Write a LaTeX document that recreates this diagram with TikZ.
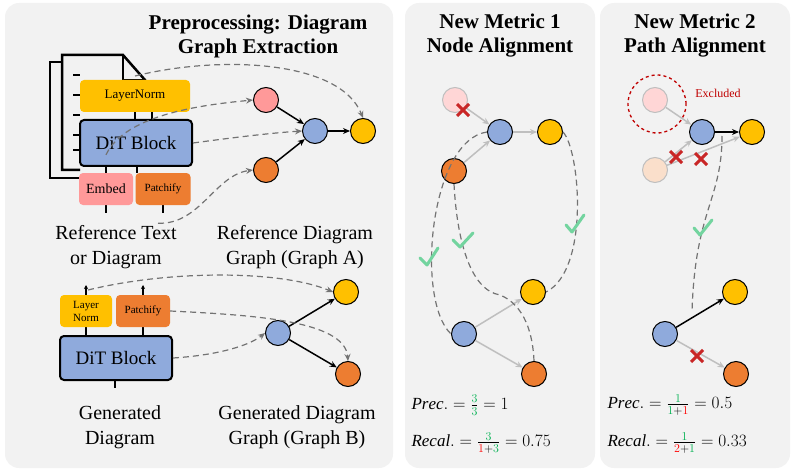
\documentclass[tikz,border=0pt]{standalone}
\usepackage{fontspec}
\setmainfont{Liberation Serif}
\usetikzlibrary{arrows.meta}
\definecolor{pbg}{HTML}{F2F2F2}
\definecolor{cyel}{HTML}{FFC000}
\definecolor{cblu}{HTML}{8FAADC}
\definecolor{cora}{HTML}{ED7D31}
\definecolor{cpin}{HTML}{FF9999}
\definecolor{cgrn}{HTML}{00B050}
\definecolor{cred}{HTML}{C00000}
\definecolor{ffred}{HTML}{FF0000}
\begin{document}
\begin{tikzpicture}[x=1pt,y=-1pt,
  panel/.style={fill=pbg,draw=none,rounded corners=14pt},
  title/.style={font=\fontsize{21}{24}\selectfont\bfseries,align=center},
  lab/.style={font=\fontsize{20}{25}\selectfont,align=center},
  gn/.style={circle,draw=black,line width=1pt,minimum size=25pt,inner sep=0pt},
  fn/.style={circle,draw=black!25,line width=1pt,minimum size=25pt,inner sep=0pt},
  blk/.style={rounded corners=4pt,inner sep=0pt,font=\fontsize{13}{14}\selectfont,align=center},
  bar/.style={-{Stealth[length=7pt,width=6pt]},line width=1.5pt},
  gar/.style={-{Stealth[length=7pt,width=6pt]},line width=1.5pt,black!25},
  dsh/.style={dashed,dash pattern=on 6pt off 4pt,line width=1.2pt,black!55},
  dar/.style={dsh,-{Stealth[length=7pt,width=6pt]}},
  tick/.style={line width=1.3pt},
  chk/.style={line width=3pt,cgrn!55,line cap=round,line join=round},
  frm/.style={anchor=west,font=\fontsize{17}{20}\selectfont}]
\useasboundingbox (0,0) rectangle (794,473);
\fill[panel] (5,3) rectangle (393,468);
\fill[panel] (405,3) rectangle (595,468);
\fill[panel] (600,3) rectangle (790,468);
% ---------- panel 1 ----------
\node[title] (t1) at (258,36) {Preprocessing: Diagram\\Graph Extraction};
% document icon
\draw[line width=2.5pt] (62,62) -- (50,62) -- (50,178) -- (80,178);
\draw[line width=2.5pt] (80,170) -- (62,170) -- (62,55) -- (123,55) -- (145,80) -- (145,90);
\draw[line width=2.5pt] (123,55) -- (123,80) -- (145,80);
\foreach \yy in {75,95,115,135,150} \draw[line width=2.5pt] (73,\yy) -- (80,\yy);
\draw[tick] (135,112) -- (135,120); \draw[tick] (152,112) -- (152,120);
\draw[tick] (106,166) -- (106,173); \draw[tick] (137,166) -- (137,173);
\draw[tick] (106,205) -- (106,213); \draw[tick] (163,205) -- (163,213);
\node[blk,fill=cyel,minimum width=110pt,minimum height=32pt] (ln) at (135,96) {LayerNorm};
\node[blk,fill=cblu,draw=black,line width=2pt,minimum width=112pt,minimum height=46pt,font=\fontsize{19}{20}\selectfont] (dit) at (136,143) {DiT Block};
\node[blk,fill=cpin,minimum width=54pt,minimum height=32pt,font=\fontsize{14}{15}\selectfont] (emb) at (106,189) {Embed};
\node[blk,fill=cora,minimum width=55pt,minimum height=32pt,font=\fontsize{11}{12}\selectfont] (pat) at (163,189) {Patchify};
\coordinate (doc) at (135,76);
\node[gn,fill=cpin] (a1) at (266,100) {};
\node[gn,fill=cblu] (a2) at (315,131) {};
\node[gn,fill=cora] (a3) at (266,170) {};
\node[gn,fill=cyel] (a4) at (363,131) {};
\draw[bar] (a1) -- (a2); \draw[bar] (a3) -- (a2); \draw[bar] (a2) -- (a4);
\draw[dar] (doc) .. controls (220,55) and (340,60) .. (a4.north);
\draw[dar] (emb.north) ++(0,-18) .. controls (125,115) and (200,105) .. (a1.west);
\draw[dar] (dit.east) .. controls (230,138) and (270,133) .. (a2.west);
\draw[dar] (pat.south) ++(-5,18) .. controls (200,225) and (215,175) .. (a3.west);
\node[lab] (l1) at (116,247) {Reference Text\\or Diagram};
\node[lab] (l2) at (295,247) {Reference Diagram\\Graph (Graph A)};
% bottom
\draw[tick,-{Stealth[length=4pt,width=4pt]}] (86,295) -- (86,285);
\draw[tick,-{Stealth[length=4pt,width=4pt]}] (143,295) -- (143,285);
\draw[tick] (86,327) -- (86,336); \draw[tick] (143,327) -- (143,336);
\draw[tick] (115,380) -- (115,388);
\node[blk,fill=cyel,minimum width=52pt,minimum height=32pt,font=\fontsize{11}{13}\selectfont] (ln2) at (86,311) {Layer\\Norm};
\node[blk,fill=cora,minimum width=54pt,minimum height=32pt,font=\fontsize{11}{12}\selectfont] (pat2) at (143,311) {Patchify};
\node[blk,fill=cblu,draw=black,line width=2pt,minimum width=112pt,minimum height=44pt,font=\fontsize{19}{20}\selectfont] (dit2) at (116,358) {DiT Block};
\node[gn,fill=cblu] (b1) at (278,333) {};
\node[gn,fill=cyel] (b2) at (346,292) {};
\node[gn,fill=cora] (b3) at (348,374) {};
\draw[bar] (b1) -- (b2); \draw[bar] (b1) -- (b3);
\coordinate (lnt) at (88,290);
\draw[dar] (lnt) .. controls (170,270) and (280,270) .. (b2.west);
\draw[dar] (pat2.east) .. controls (250,315) and (345,320) .. (b3.north);
\draw[dar] (dit2.east) .. controls (220,355) and (250,345) .. (b1.west);
\node[lab] (l3) at (120,427) {Generated\\Diagram};
\node[lab] (l4) at (297,427) {Generated Diagram\\Graph (Graph B)};
% ---------- panel 2 ----------
\node[title] (t2) at (500,36) {New Metric 1\\Node Alignment};
\node[fn,fill=cpin!40] (c1) at (455,100) {};
\node[gn,fill=cblu] (c2) at (500,132) {};
\node[gn,fill=cyel] (c3) at (550,132) {};
\node[gn,fill=cora] (c4) at (454,171) {};
\draw[gar] (c1) -- (c2); \draw[gar] (c4) -- (c2); \draw[gar] (c2) -- (c3);
\draw[line width=3pt,cred!85] (457,104) -- (469,116) (457,116) -- (469,104);
\node[gn,fill=cblu] (d1) at (464,334) {};
\node[gn,fill=cyel] (d2) at (533,292) {};
\node[gn,fill=cora] (d3) at (534,374) {};
\draw[gar] (d1) -- (d2); \draw[gar] (d1) -- (d3);
\draw[dsh] (c2.west) .. controls (430,140) and (415,300) .. (d1.west);
\draw[dsh] (c4.south) .. controls (457,240) and (470,290) .. (500,295) .. controls (525,305) and (533,335) .. (d3.north);
\draw[dsh] (c3.east) .. controls (580,150) and (590,270) .. (d2.east);
\draw[chk] (420,258) -- (427,265) -- (438,248);
\draw[chk] (453,240) -- (460,247) -- (473,233);
\draw[chk] (566,225) -- (572,232) -- (584,215);
\node[frm] (p1) at (408,405) {$\mathit{Prec.}=\frac{\color{cgrn}3}{\color{cgrn}3}=1$};
\node[frm] (r1) at (408,443) {$\mathit{Recal.}=\frac{\color{cgrn}3}{{\color{ffred}1}+{\color{cgrn}3}}=0.75$};
% ---------- panel 3 ----------
\node[title] (t3) at (695,36) {New Metric 2\\Path Alignment};
\node[fn,fill=cpin!40] (e1) at (655,100) {};
\node[draw=cred,dashed,line width=1.3pt,circle,minimum size=58pt] (ex) at (657,104) {};
\node[text=cred,font=\fontsize{12}{13}\selectfont] (ext) at (718,93) {Excluded};
\node[gn,fill=cblu] (e2) at (702,132) {};
\node[gn,fill=cyel] (e3) at (752,132) {};
\node[fn,fill=cora!25] (e4) at (655,170) {};
\draw[gar] (e1) -- (e2); \draw[gar] (e4) -- (e2); \draw[gar] (e4) -- (e3);
\draw[bar] (e2) -- (e3);
\draw[line width=3pt,cred!85] (670,151) -- (682,163) (670,163) -- (682,151);
\draw[line width=3pt,cred!85] (695,153) -- (707,165) (695,165) -- (707,153);
\node[gn,fill=cblu] (f1) at (665,334) {};
\node[gn,fill=cyel] (f2) at (735,292) {};
\node[gn,fill=cora] (f3) at (736,374) {};
\draw[bar] (f1) -- (f2); \draw[gar] (f1) -- (f3);
\draw[line width=3pt,cred!85] (691,350) -- (703,362) (691,362) -- (703,350);
\coordinate (st) at (722,136);
\coordinate (en) at (692,312);
\draw[dsh] (st) .. controls (722,200) and (695,210) .. (en);
\draw[chk] (694,228) -- (700,235) -- (712,220);
\node[frm] (p2) at (604,405) {$\mathit{Prec.}=\frac{\color{cgrn}1}{{\color{cgrn}1}+{\color{ffred}1}}=0.5$};
\node[frm] (r2) at (604,443) {$\mathit{Recal.}=\frac{\color{cgrn}1}{{\color{ffred}2}+{\color{cgrn}1}}=0.33$};
\end{tikzpicture}
\end{document}
